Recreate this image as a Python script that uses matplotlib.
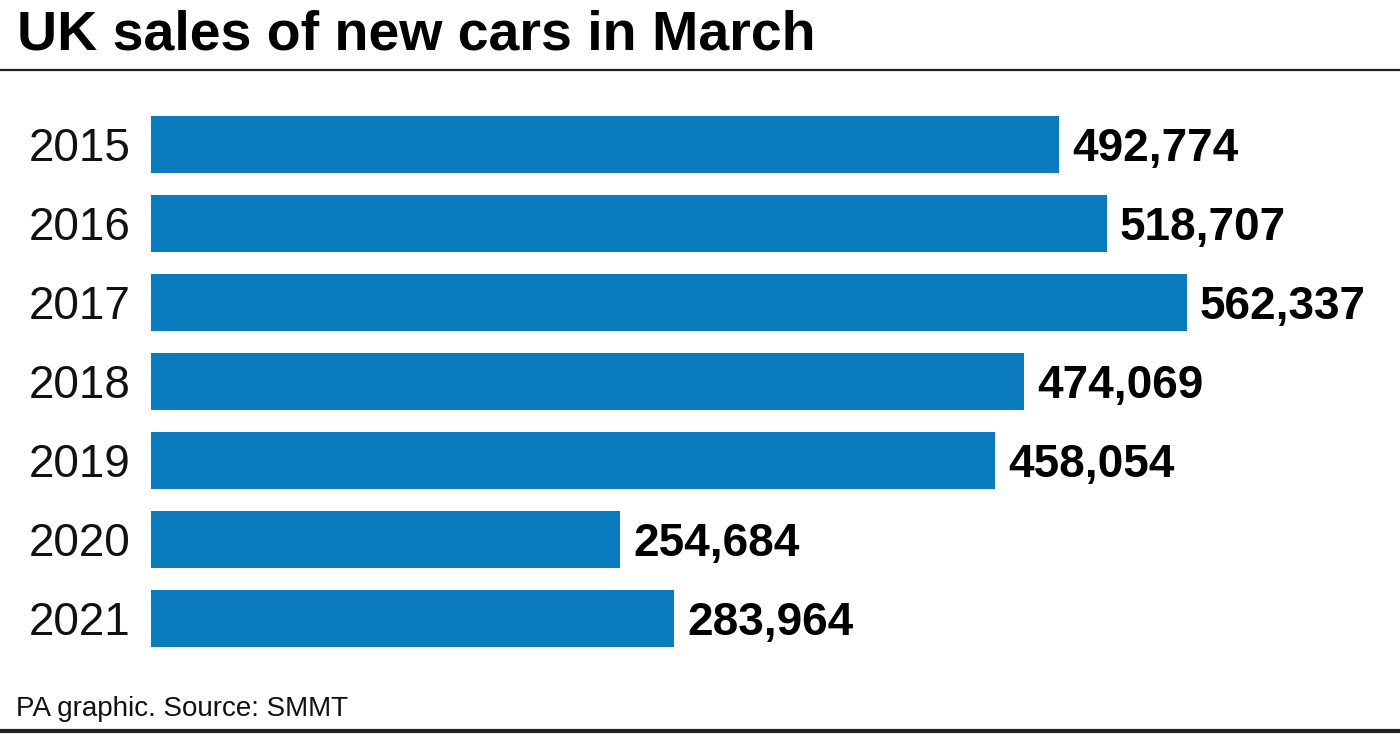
import matplotlib
matplotlib.use("Agg")
import matplotlib.pyplot as plt
from matplotlib.lines import Line2D

years = ["2015", "2016", "2017", "2018", "2019", "2020", "2021"]
sales = [492774, 518707, 562337, 474069, 458054, 254684, 283964]

BLUE = "#0a7bbd"
FONT = "Liberation Sans"

W, H = 1400, 735
fig = plt.figure(figsize=(W / 100, H / 100), dpi=100)
fig.patch.set_facecolor("white")

# axes placed in pixel terms: bars start at x=151, rows centred 144..618 px
left, right = 151, W
top, bottom = 104.5, 658
ax = fig.add_axes([left / W, 1 - bottom / H, (right - left) / W, (bottom - top) / H])
px_per_unit = 1036 / 562337
row_px = (bottom - top) / len(years)
ax.set_xlim(0, (right - left) / px_per_unit)
ax.set_ylim(len(years) - 0.5, -0.5)

pos = list(range(len(years)))
ax.barh(pos, sales, height=0.72, color=BLUE)
# baseline half a cap height below the bar centre
base_off = 16.5 / row_px
for y, v in zip(pos, sales):
    ax.text(v + 13 / px_per_unit, y + base_off, f"{v:,}", va="baseline", ha="left",
            fontsize=33, fontweight="bold", family=FONT, color="black")

ax.set_yticks(pos)
ax.set_yticklabels(years, fontsize=33, family=FONT, color="#111111")
ax.tick_params(axis="y", length=0, pad=15)
ax.set_xticks([])
for s in ax.spines.values():
    s.set_visible(False)

fig.text(17 / W, 1 - 50 / H, "UK sales of new cars in March", ha="left", va="baseline",
         fontsize=40, fontweight="bold", family=FONT, color="black")
fig.text(16 / W, 1 - 716 / H, "PA graphic. Source: SMMT", ha="left", va="baseline",
         fontsize=20, family=FONT, color="#111111")

fig.add_artist(Line2D([0, 1], [1 - 70 / H, 1 - 70 / H], color="#222222", lw=1.6))
fig.add_artist(Line2D([0, 1], [1 - 731 / H, 1 - 731 / H], color="#222222", lw=3))

fig.savefig("out.png", dpi=100)
